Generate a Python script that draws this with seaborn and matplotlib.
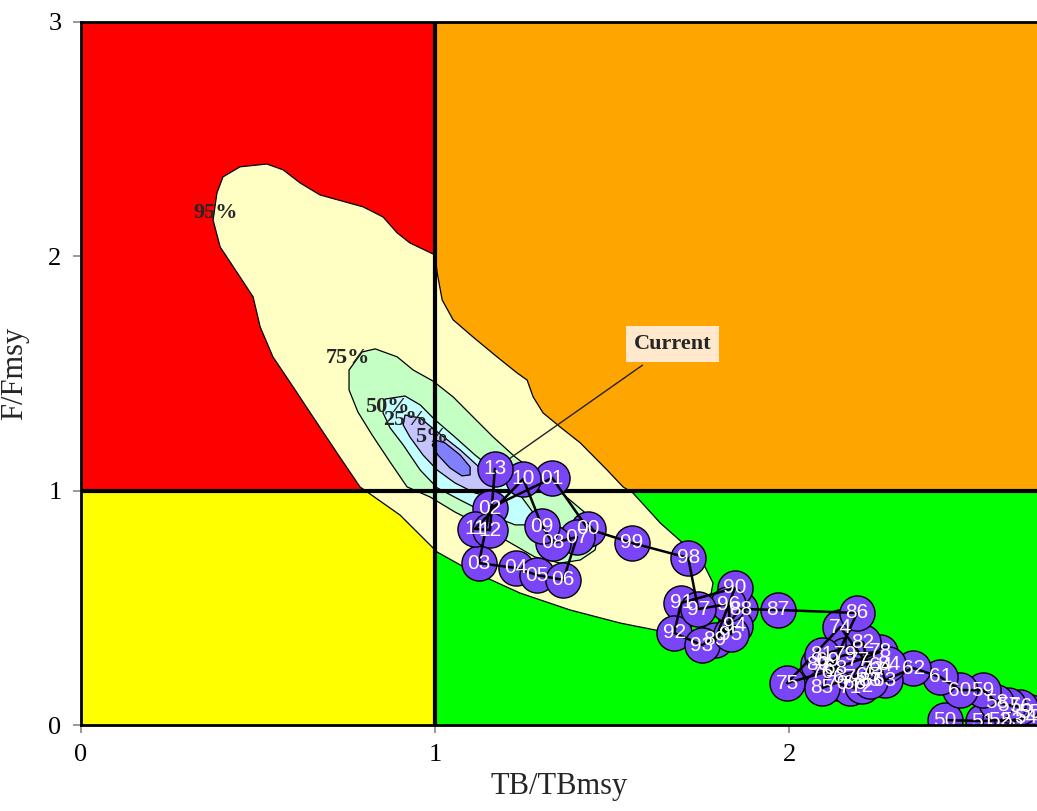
import numpy as np
import pandas as pd
import matplotlib
matplotlib.use("Agg")
import matplotlib.pyplot as plt
import seaborn as sns

# trajectory of stock status, 1950 -> 2013
years = ["50", "51", "52", "53", "54", "55", "56", "57", "58", "59",
         "60", "61", "62", "63", "64", "65", "66", "67", "68", "69",
         "70", "71", "72", "73", "74", "75", "76", "77", "78", "79",
         "80", "81", "82", "83", "84", "85", "86", "87", "88", "89",
         "90", "91", "92", "93", "94", "95", "96", "97", "98", "99",
         "00", "01", "02", "03", "04", "05", "06", "07", "08", "09",
         "10", "11", "12", "13"]
tb_ratio = [2.441, 2.548, 2.596, 2.630, 2.667, 2.681, 2.653, 2.619, 2.585, 2.548,
            2.483, 2.427, 2.350, 2.271, 2.257, 2.223, 2.186, 2.158, 2.130, 2.110,
            2.138, 2.172, 2.206, 2.234, 2.144, 1.994, 2.093, 2.195, 2.257, 2.158,
            2.082, 2.093, 2.209, 2.229, 2.280, 2.093, 2.192, 1.969, 1.862, 1.791,
            1.847, 1.695, 1.675, 1.754, 1.847, 1.836, 1.828, 1.743, 1.715, 1.556,
            1.432, 1.331, 1.155, 1.124, 1.229, 1.288, 1.362, 1.401, 1.333, 1.302,
            1.249, 1.113, 1.155, 1.169]
f_ratio = [0.021, 0.017, 0.021, 0.021, 0.030, 0.055, 0.077, 0.085, 0.098, 0.149,
           0.149, 0.205, 0.243, 0.192, 0.256, 0.213, 0.179, 0.201, 0.243, 0.277,
           0.179, 0.158, 0.166, 0.235, 0.418, 0.179, 0.222, 0.277, 0.312, 0.299,
           0.260, 0.299, 0.354, 0.188, 0.260, 0.158, 0.478, 0.491, 0.495, 0.363,
           0.585, 0.521, 0.393, 0.341, 0.423, 0.388, 0.516, 0.495, 0.713, 0.777,
           0.837, 1.054, 0.926, 0.691, 0.670, 0.640, 0.619, 0.802, 0.777, 0.849,
           1.050, 0.837, 0.832, 1.093]

# probability contours of current status (outline vertices)
c95_x = [0.449, 0.525, 0.571, 0.619, 0.675, 0.797, 0.853, 0.893, 0.929, 1.000,
         1.006, 1.020, 1.051, 1.107, 1.175, 1.232, 1.260, 1.277, 1.305, 1.353,
         1.410, 1.486, 1.531, 1.559, 1.636, 1.712, 1.757, 1.785, 1.771, 1.720,
         1.650, 1.523, 1.381, 1.240, 1.147, 1.071, 1.006, 0.901, 0.788, 0.723,
         0.655, 0.599, 0.542, 0.506, 0.486, 0.449, 0.393, 0.373, 0.384, 0.401]
c95_y = [2.382, 2.394, 2.369, 2.313, 2.262, 2.211, 2.168, 2.100, 2.057, 2.006,
         1.929, 1.814, 1.729, 1.656, 1.571, 1.502, 1.472, 1.400, 1.332, 1.272,
         1.204, 1.088, 1.016, 0.990, 0.862, 0.760, 0.691, 0.606, 0.491, 0.414,
         0.397, 0.435, 0.491, 0.563, 0.627, 0.683, 0.738, 0.896, 1.016, 1.161,
         1.315, 1.443, 1.571, 1.699, 1.827, 1.912, 2.040, 2.155, 2.271, 2.339]
c75_x = [0.794, 0.831, 0.893, 0.938, 0.994, 1.051, 1.107, 1.164, 1.226, 1.311,
         1.381, 1.438, 1.460, 1.452, 1.410, 1.353, 1.282, 1.198, 1.127, 1.056,
         0.986, 0.921, 0.873, 0.822, 0.782, 0.757, 0.757]
c75_y = [1.592, 1.605, 1.571, 1.515, 1.468, 1.400, 1.315, 1.229, 1.144, 1.046,
         0.960, 0.888, 0.811, 0.747, 0.704, 0.691, 0.717, 0.790, 0.854, 0.909,
         0.973, 1.016, 1.122, 1.238, 1.336, 1.430, 1.515]
c50_x = [0.859, 0.915, 0.958, 1.000, 1.056, 1.113, 1.184, 1.240, 1.282, 1.268,
         1.226, 1.155, 1.071, 1.006, 0.958, 0.910, 0.873, 0.853]
c50_y = [1.391, 1.404, 1.366, 1.302, 1.229, 1.152, 1.067, 0.982, 0.896, 0.854,
         0.854, 0.896, 0.960, 1.012, 1.088, 1.195, 1.268, 1.332]
c25_x = [0.915, 0.958, 1.006, 1.071, 1.127, 1.169, 1.161, 1.113, 1.056, 1.006,
         0.966, 0.929, 0.910]
c25_y = [1.323, 1.310, 1.251, 1.174, 1.097, 1.024, 0.973, 0.990, 1.033, 1.088,
         1.152, 1.229, 1.280]
c05_x = [1.000, 1.028, 1.071, 1.099, 1.099, 1.076, 1.042, 1.008, 0.992]
c05_y = [1.216, 1.204, 1.152, 1.101, 1.067, 1.063, 1.097, 1.152, 1.195]

contour_labels = ["95%", "75%", "50%", "25%", "5%"]
label_x = [0.379, 0.754, 0.864, 0.915, 0.990]
label_y = [2.185, 1.566, 1.357, 1.302, 1.229]

traj = pd.DataFrame({"year": years, "tb": tb_ratio, "f": f_ratio})

sns.set_style("ticks")
plt.rcParams["font.family"] = ["Liberation Serif", "DejaVu Serif"]

fig = plt.figure(figsize=(10.37, 8.11), dpi=100)
ax = fig.add_axes([81 / 1037, 86 / 811, 956 / 1037, 703 / 811])
xmax, ymax = 2.70, 3.0
ax.set_xlim(0, xmax)
ax.set_ylim(0, ymax)

# kobe quadrants
ax.fill_between([0, 1], 1, ymax, color="#FF0000", lw=0, zorder=0)
ax.fill_between([1, xmax], 1, ymax, color="#FFA500", lw=0, zorder=0)
ax.fill_between([0, 1], 0, 1, color="#FFFF00", lw=0, zorder=0)
ax.fill_between([1, xmax], 0, 1, color="#00FF00", lw=0, zorder=0)

# contours
shapes = [(c95_x, c95_y, "#FFFFC4"), (c75_x, c75_y, "#C4FFC4"),
          (c50_x, c50_y, "#C4FFFF"), (c25_x, c25_y, "#C4C4FF"),
          (c05_x, c05_y, "#8080FF")]
for cx, cy, col in shapes:
    ax.fill(cx, cy, facecolor=col, edgecolor="black", lw=0.9, zorder=1)
for lab, lx, ly in zip(contour_labels, label_x, label_y):
    ax.text(lx, ly, lab, fontsize=16, fontweight="bold", ha="center",
            va="center", zorder=2)

ax.axvline(1, color="black", lw=3, zorder=2)
ax.axhline(1, color="black", lw=3, zorder=2)

# current label
ax.annotate("Current", xy=(tb_ratio[-1], f_ratio[-1]), xytext=(1.67, 1.625),
            fontsize=16, fontweight="bold", ha="center", va="center",
            bbox=dict(boxstyle="square,pad=0.35", fc="#FFE8CC", ec="none"),
            arrowprops=dict(arrowstyle="-", color="#222222", lw=1,
                            shrinkA=4, shrinkB=12),
            zorder=3)

# trajectory
sns.scatterplot(data=traj, x="tb", y="f", s=640, color="#7A45F7",
                edgecolor="black", linewidth=1, ax=ax, zorder=4, legend=False)
sns.lineplot(data=traj, x="tb", y="f", sort=False, color="black", lw=1.8,
             ax=ax, zorder=5, estimator=None)
for yr, tx, ty in zip(years, tb_ratio, f_ratio):
    ax.text(tx, ty, yr, color="white", fontsize=15, ha="center",
            va="center", family=["Liberation Sans", "DejaVu Sans"],
            zorder=6, clip_on=True)

ax.set_xticks([0, 1, 2])
ax.set_yticks([0, 1, 2, 3])
ax.tick_params(colors="#888888", labelcolor="black", labelsize=19, length=6,
               width=1.2, pad=8)
ax.set_xlabel("TB/TBmsy", fontsize=22, labelpad=4)
ax.set_ylabel("F/Fmsy", fontsize=22, labelpad=14)
for side in ["left", "bottom", "top"]:
    ax.spines[side].set_color("black")
    ax.spines[side].set_linewidth(2)
    ax.spines[side].set_zorder(7)
ax.spines["right"].set_visible(False)

fig.savefig("out.png", dpi=100)
